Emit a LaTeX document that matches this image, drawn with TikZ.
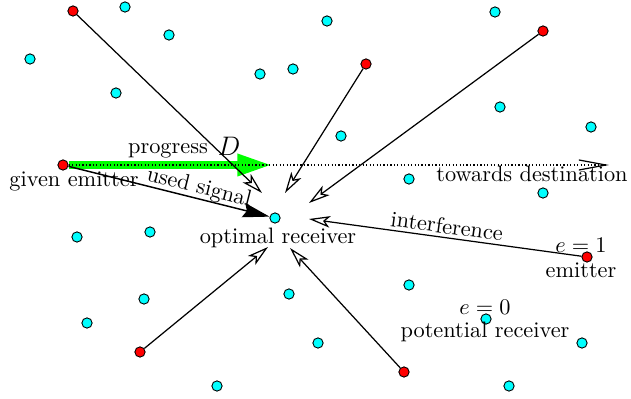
\documentclass[tikz,border=0pt]{standalone}
\usepackage{xcolor}
\usepackage{tikz}
\usetikzlibrary{arrows.meta,positioning}

\definecolor{aqua}{RGB}{0,255,255}
\definecolor{lime}{RGB}{0,255,0}
\definecolor{hot}{RGB}{255,0,0}

\begin{document}
\begin{tikzpicture}[
    x=0.448pt, y=-0.448pt,
    dot/.style={draw, circle, inner sep=0pt, minimum size=4.6pt, line width=0.4pt},
    rx/.style={dot, fill=aqua},
    tx/.style={dot, fill=hot},
    lbl/.style={inner sep=1pt},
    intf/.style={-{Stealth[open, length=9.5pt, width=5.2pt, inset=2.4pt]}, line width=0.55pt},
    sig/.style={-{Stealth[length=12pt, width=6.5pt, inset=1.5pt]}, line width=0.65pt},
    prog/.style={-{Triangle[length=16pt, width=9pt]}, draw=lime, line width=3.8pt},
    dir/.style={-{Straight Barb[length=12pt, width=4.5pt]}, densely dotted, line width=0.55pt}
  ]
    \useasboundingbox (0,0) rectangle (631,399);

    % potential receivers
    \node[rx] (r1) at (125,7) {};
    \node[rx] (r2) at (169,35) {};
    \node[rx] (r3) at (30,59) {};
    \node[rx] (r4) at (116,93) {};
    \node[rx] (r5) at (260,74) {};
    \node[rx] (r6) at (293,69) {};
    \node[rx] (r7) at (327,21) {};
    \node[rx] (r8) at (495,12) {};
    \node[rx] (r9) at (500,107) {};
    \node[rx] (r10) at (591,127) {};
    \node[rx] (r11) at (341,136) {};
    \node[rx] (r12) at (409,179) {};
    \node[rx] (r13) at (543,193) {};
    \node[rx] (r14) at (77,237) {};
    \node[rx] (r15) at (150,232) {};
    \node[rx] (r16) at (144,299) {};
    \node[rx] (r17) at (87,323) {};
    \node[rx] (r18) at (289,294) {};
    \node[rx] (r19) at (409,285) {};
    \node[rx] (r20) at (582,343) {};
    \node[rx] (r21) at (318,343) {};
    \node[rx] (r22) at (217,386) {};
    \node[rx] (r23) at (509,386) {};
    \node[rx] (pot) at (486,319) {};
    \node[rx] (opt) at (275,218) {};

    % emitters
    \node[tx] (src) at (63,165) {};
    \node[tx] (e1) at (73,11) {};
    \node[tx] (e2) at (366,64) {};
    \node[tx] (e3) at (543,31) {};
    \node[tx] (e4) at (587,257) {};
    \node[tx] (e5) at (140,352) {};
    \node[tx] (e6) at (404,372) {};

    % free ends
    \coordinate (t1) at (262,193);
    \coordinate (t2) at (285,193);
    \coordinate (t3) at (309,203);
    \coordinate (t4) at (309,219);
    \coordinate (t5) at (268,247);
    \coordinate (t6) at (290,248);
    \coordinate (pg) at (273,165);
    \coordinate (dest) at (609,165);

    \draw[prog] (src) -- (pg);
    \draw[dir] (src) -- (dest);
    \draw[sig] (src) -- (opt);
    \draw[intf] (e1) -- (t1);
    \draw[intf] (e2) -- (t2);
    \draw[intf] (e3) -- (t3);
    \draw[intf] (e4) -- (t4);
    \draw[intf] (e5) -- (t5);
    \draw[intf] (e6) -- (t6);

    % labels
    \node[lbl] (lsrc) at (74,181) {given emitter};
    \node[lbl] (lprog) at (168,151) {progress};
    \node[lbl] (ld) at (229,146) {\large $D$};
    \node[lbl, rotate=-14] (lsig) at (199,188) {used signal};
    \node[lbl] (ldest) at (532,174) {towards destination};
    \node[lbl] (lopt) at (278,238) {optimal receiver};
    \node[lbl, rotate=-7.8] (lint) at (447,226) {interference};
    \node[lbl] (le1) at (581,245) {$e=1$};
    \node[lbl] (lemit) at (581,270) {emitter};
    \node[lbl] (le0) at (485,307) {$e=0$};
    \node[lbl] (lpot) at (485,332) {potential receiver};
  \end{tikzpicture}
\end{document}
